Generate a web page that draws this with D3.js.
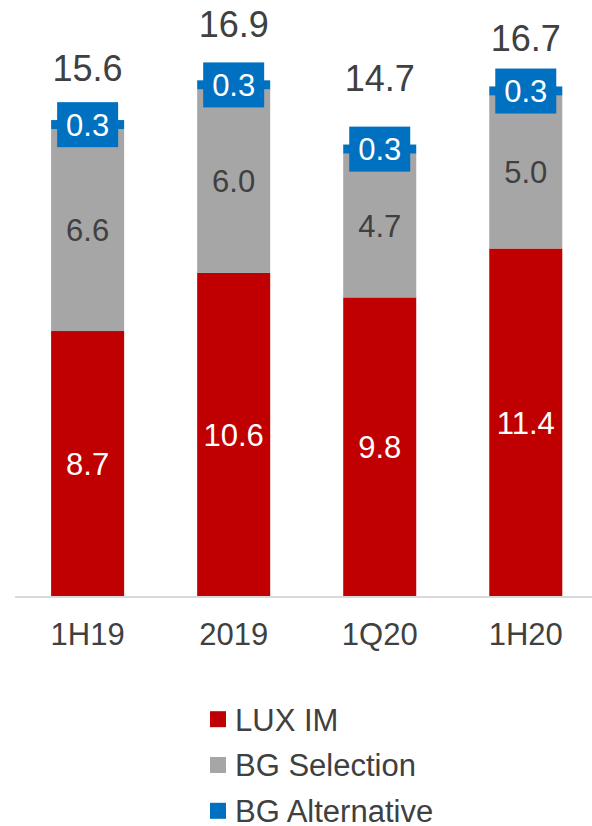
<!DOCTYPE html>
<html><head><meta charset="utf-8">
<script src="https://cdn.jsdelivr.net/npm/d3@7/dist/d3.min.js"></script>
<style>html,body{margin:0;padding:0;background:#fff;}svg{display:block;}</style>
</head><body>
<script>
const categories = ["1H19", "2019", "1Q20", "1H20"];
const luxIM = [8.7, 10.6, 9.8, 11.4];
const bgSelection = [6.6, 6.0, 4.7, 5.0];
const bgAlternative = [0.3, 0.3, 0.3, 0.3];
const totals = ["15.6", "16.9", "14.7", "16.7"];
const seriesNames = ["LUX IM", "BG Selection", "BG Alternative"];
const colors = ["#C00000", "#A6A6A6", "#0070C0"];
// layout only: gap (px) between bar top and total label baseline, as in the reference
const totalLabelGap = [39.5, 43.5, 54, 35.5];

const W = 592, H = 826;
const font = "'Liberation Sans', Arial, sans-serif";
const txt = "#404040";
const svg = d3.select("body").append("svg").attr("width", W).attr("height", H);

const x = d3.scaleBand().domain(categories).range([14.6, 598.8]).paddingInner(0.5).paddingOuter(0.25);
const y = d3.scaleLinear().domain([0, 18]).range([597, 46.7]);

const rows = categories.map((c, i) => ({cat: c, idx: i, lux: luxIM[i], sel: bgSelection[i], alt: bgAlternative[i], total: totals[i]}));
const stack = d3.stack().keys(["lux", "sel", "alt"])(rows);

// bars
stack.forEach((layer, li) => {
  svg.append("g").selectAll("rect").data(layer).join("rect")
    .attr("x", d => x(d.data.cat))
    .attr("width", x.bandwidth())
    .attr("y", d => y(d[1]))
    .attr("height", d => y(d[0]) - y(d[1]))
    .attr("fill", colors[li]);
});

// axis line
const axis = svg.append("g").attr("transform", `translate(0,${y(0)})`)
  .call(d3.axisBottom(x).tickSize(0).tickPadding(26));
axis.select(".domain").attr("stroke", "#D9D9D9").attr("stroke-width", 2).attr("d", `M15,0H${W}`);
axis.selectAll("text").attr("font-family", font).attr("font-size", 31).attr("fill", txt);

// segment labels (LUX IM, BG Selection)
[0, 1].forEach(li => {
  svg.append("g").selectAll("text").data(stack[li]).join("text")
    .attr("x", d => x(d.data.cat) + x.bandwidth() / 2)
    .attr("y", d => (y(d[0]) + y(d[1])) / 2)
    .attr("dy", "0.36em")
    .attr("text-anchor", "middle")
    .attr("font-family", font).attr("font-size", 31)
    .attr("fill", li === 0 ? "#fff" : txt)
    .text(d => (d[1] - d[0]).toFixed(1));
});

// BG Alternative labels with blue boxes
const altG = svg.append("g").selectAll("g").data(stack[2]).join("g")
  .attr("transform", d => `translate(${x(d.data.cat) + x.bandwidth() / 2},${(y(d[0]) + y(d[1])) / 2})`);
altG.append("rect").attr("x", -30.5).attr("y", -22.5).attr("width", 61).attr("height", 45).attr("fill", colors[2]);
altG.append("text").attr("text-anchor", "middle").attr("dy", "0.36em")
  .attr("font-family", font).attr("font-size", 31).attr("fill", "#fff")
  .text(d => d.data.alt.toFixed(1));

// totals
svg.append("g").selectAll("text").data(stack[2]).join("text")
  .attr("x", d => x(d.data.cat) + x.bandwidth() / 2)
  .attr("y", d => y(d[1]) - totalLabelGap[d.data.idx])
  .attr("text-anchor", "middle")
  .attr("font-family", font).attr("font-size", 36).attr("fill", txt)
  .text(d => d.data.total);

// legend
const leg = svg.append("g").selectAll("g").data(seriesNames).join("g")
  .attr("transform", (d, i) => `translate(210,${719.2 + i * 45.8})`);
leg.append("rect").attr("x", 0).attr("y", -8).attr("width", 16).attr("height", 16).attr("fill", (d, i) => colors[i]);
leg.append("text").attr("x", 25).attr("y", 11.3)
  .attr("font-family", font).attr("font-size", 31).attr("fill", txt).text(d => d);
</script>
</body></html>
